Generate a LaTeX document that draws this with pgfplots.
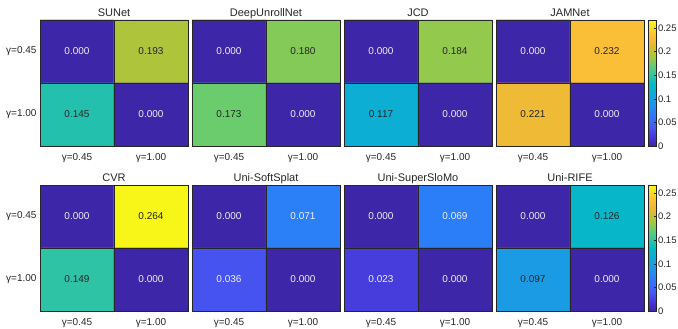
\documentclass[border=0pt]{standalone}
\usepackage{fontspec}
\setmainfont{Liberation Sans}
\usepackage{pgfplots}
\usepackage{pgfplotstable}
\pgfplotsset{compat=1.18}

\pgfplotstableread{
x y c
0 0 0.000
1 0 0.193
0 1 0.145
1 1 0.000
}\tSUNet
\pgfplotstableread{
x y c
0 0 0.000
1 0 0.180
0 1 0.173
1 1 0.000
}\tDeep
\pgfplotstableread{
x y c
0 0 0.000
1 0 0.184
0 1 0.117
1 1 0.000
}\tJCD
\pgfplotstableread{
x y c
0 0 0.000
1 0 0.232
0 1 0.221
1 1 0.000
}\tJAM
\pgfplotstableread{
x y c
0 0 0.000
1 0 0.264
0 1 0.149
1 1 0.000
}\tCVR
\pgfplotstableread{
x y c
0 0 0.000
1 0 0.071
0 1 0.036
1 1 0.000
}\tSoft
\pgfplotstableread{
x y c
0 0 0.000
1 0 0.069
0 1 0.023
1 1 0.000
}\tSlo
\pgfplotstableread{
x y c
0 0 0.000
1 0 0.126
0 1 0.097
1 1 0.000
}\tRIFE

\definecolor{txt}{RGB}{38,38,38}
\definecolor{wtxt}{RGB}{240,240,240}

\pgfplotsset{
 colormap={parula}{
  rgb255=(62,38,168) rgb255=(68,48,200) rgb255=(71,66,228) rgb255=(70,90,242)
  rgb255=(60,105,250) rgb255=(45,122,250) rgb255=(40,138,240) rgb255=(30,152,230)
  rgb255=(20,165,220) rgb255=(10,178,208) rgb255=(5,186,195) rgb255=(40,194,170)
  rgb255=(75,200,140) rgb255=(108,204,108) rgb255=(158,200,68) rgb255=(192,193,48)
  rgb255=(228,185,50) rgb255=(248,186,58) rgb255=(252,200,48) rgb255=(245,225,38)
  rgb255=(249,251,20)},
 hm/.style={
  anchor=south west, width=148pt, height=126pt, scale only axis,
  xmin=-0.5, xmax=1.5, ymin=-0.5, ymax=1.5, y dir=reverse,
  xtick={0,1}, ytick={0,1},
  xticklabels={{γ=0.45},{γ=1.00}}, yticklabels={},
  major tick length=0pt,
  axis on top,
  axis line style={draw=txt, line width=0.8pt},
  colormap name=parula, point meta min=0, point meta max=0.267,
  ticklabel style={font=\fontsize{10}{12}\selectfont, text=txt},
  xticklabel style={anchor=base, yshift=-15pt},
  title style={font=\fontsize{11}{13}\selectfont, text=txt, at={(0.5,1)}, anchor=base, yshift=-2.5pt},
 },
 ylab/.style={yticklabels={{γ=0.45},{γ=1.00}}},
 cbar/.style={colorbar, colorbar style={
  at={(parent axis.north east)}, anchor=north west, xshift=-4.5pt,
  width=8pt, xtick=\empty,
  ytick={0,0.05,0.1,0.15,0.2,0.25},
  yticklabels={0,0.05,0.1,0.15,0.2,0.25},
  yticklabel style={font=\fontsize{9.5}{11}\selectfont, text=txt, xshift=-1.5pt},
  axis line style={draw=txt, line width=0.5pt},
  major tick length=2pt, tick style={draw=txt, line width=0.5pt},
  ytick pos=right, tick align=inside}},
}

\newcommand{\heat}[5]{%
\begin{axis}[hm, at={(#1pt,#2pt)}, title={#3}, #5]
\addplot[matrix plot*, mesh/cols=2, point meta=explicit] table[meta=c]{#4};
\draw[draw=txt, line width=0.8pt] (axis cs:0.5,-0.5) -- (axis cs:0.5,1.5);
\draw[draw=txt, line width=0.8pt] (axis cs:-0.5,0.5) -- (axis cs:1.5,0.5);
\addplot[draw=none, mark=none, point meta=explicit,
  nodes near coords={\ifdim\pgfplotspointmetatransformed pt<330pt\color{wtxt}\else\color{txt}\fi
    \pgfmathprintnumber[fixed,fixed zerofill,precision=3,assume math mode=true]{\pgfplotspointmeta}},
  nodes near coords align=center,
  every node near coord/.append style={font=\fontsize{10}{12}\selectfont}]
  table[meta=c]{#4};
\end{axis}}

\begin{document}
\begin{tikzpicture}
\path[use as bounding box] (0,0) rectangle (678pt,329pt);
\heat{40}{183}{SUNet}{\tSUNet}{ylab}
\heat{192}{183}{DeepUnrollNet}{\tDeep}{}
\heat{344}{183}{JCD}{\tJCD}{}
\heat{496}{183}{JAMNet}{\tJAM}{cbar}
\heat{40}{18}{CVR}{\tCVR}{ylab}
\heat{192}{18}{Uni-SoftSplat}{\tSoft}{}
\heat{344}{18}{Uni-SuperSloMo}{\tSlo}{}
\heat{496}{18}{Uni-RIFE}{\tRIFE}{cbar}
\end{tikzpicture}
\end{document}
